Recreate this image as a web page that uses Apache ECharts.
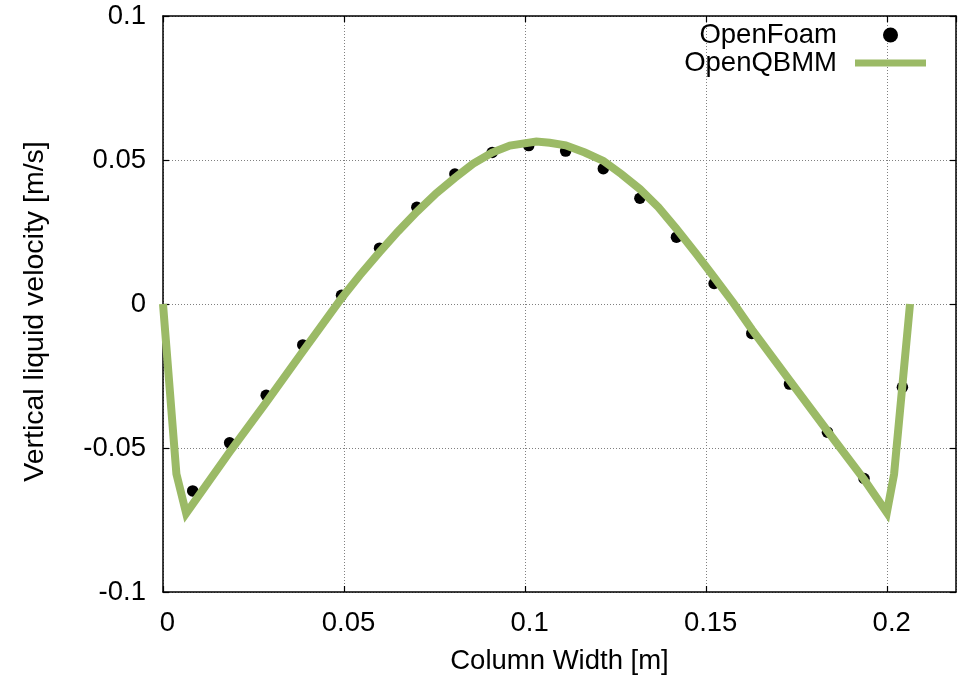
<!DOCTYPE html>
<html>
<head>
<meta charset="utf-8">
<script src="https://cdn.jsdelivr.net/npm/echarts@6/dist/echarts.min.js"></script>
<style>
  html, body { margin: 0; padding: 0; background: #fff; }
  #chart { width: 960px; height: 680px; }
</style>
</head>
<body>
<div id="chart"></div>
<script>
// OpenFoam cell values: column-width position [m] and vertical liquid velocity [m/s]
const foamX = [0.0082, 0.0184, 0.0285, 0.0386, 0.0493, 0.0598, 0.0701, 0.0806, 0.0909, 0.1010,
               0.1112, 0.1216, 0.1317, 0.1418, 0.1522, 0.1626, 0.1730, 0.1835, 0.1936, 0.2042];
const foamY = [-0.0649, -0.0482, -0.0317, -0.0142, 0.0030, 0.0194, 0.0336, 0.0451, 0.0526, 0.0550,
               0.0531, 0.0470, 0.0367, 0.0232, 0.0071, -0.0102, -0.0278, -0.0445, -0.0606, -0.0289];

// OpenQBMM profile
const qbmmX = [0, 0.0037, 0.0064, 0.0184, 0.0285, 0.0386, 0.0493, 0.0543, 0.0598, 0.0649,
               0.0701, 0.0755, 0.0806, 0.0856, 0.0909, 0.0958, 0.1031, 0.1068, 0.1112, 0.1165,
               0.1216, 0.1266, 0.1317, 0.1368, 0.1418, 0.1472, 0.1522, 0.1575, 0.1626, 0.1730,
               0.1835, 0.1936, 0.1999, 0.2019, 0.2063];
const qbmmY = [0, -0.0590, -0.0727, -0.0514, -0.0342, -0.0165, 0.0020, 0.0099, 0.0180, 0.0252,
               0.0320, 0.0385, 0.0438, 0.0487, 0.0526, 0.0550, 0.0564, 0.0560, 0.0551, 0.0526,
               0.0497, 0.0451, 0.0399, 0.0336, 0.0261, 0.0175, 0.0093, 0.0004, -0.0088, -0.0264,
               -0.0441, -0.0609, -0.0724, -0.0591, 0];

const xTicks = [0, 0.05, 0.1, 0.15, 0.2];
const yTicks = [-0.1, -0.05, 0, 0.05, 0.1];

const FONT = 'Liberation Sans, Arial, Helvetica, sans-serif';
const GREEN = '#9bba66';

const chart = echarts.init(document.getElementById('chart'), null, { renderer: 'canvas' });

const pairs = (xs, ys) => xs.map((x, i) => [x, ys[i]]);
const fmt = v => {
  const hit = [...xTicks, ...yTicks].find(t => Math.abs(t - v) < 1e-9);
  return hit === undefined ? '' : String(hit);
};

const baseAxis = {
  axisLine: { show: true, onZero: false, lineStyle: { color: '#000', width: 1.5 } },
  axisTick: { show: true, inside: true, length: 6, lineStyle: { color: '#000', width: 1.2 } },
  minorTick: { show: false },
};

chart.setOption({
  animation: false,
  backgroundColor: '#fff',
  textStyle: { fontFamily: FONT },
  grid: { left: 163, top: 16, width: 793, height: 579, containLabel: false },
  legend: {
    orient: 'vertical',
    right: 34,
    top: 21,
    padding: 0,
    align: 'right',
    itemGap: 0,
    itemWidth: 71,
    itemHeight: 15,
    textStyle: { fontFamily: FONT, fontSize: 27.5, color: '#000', lineHeight: 28, padding: [0, 13, 0, 0] },
    data: [
      { name: 'OpenFoam', icon: 'circle', itemStyle: { color: '#000', opacity: 1 } },
      { name: 'OpenQBMM', icon: 'path://M0,0H71V7H0Z', itemStyle: { color: GREEN } }
    ]
  },
  xAxis: [
    Object.assign({}, baseAxis, {
      type: 'value', position: 'bottom', min: 0, max: 0.219, interval: 0.05,
      name: 'Column Width [m]', nameLocation: 'middle', nameGap: 55,
      nameTextStyle: { fontFamily: FONT, fontSize: 27.5, color: '#000' },
      axisLabel: { show: true, margin: 17, fontFamily: FONT, fontSize: 27.5, color: '#000',
                   formatter: fmt, showMaxLabel: false, padding: [0, 0, 0, 9] },
      splitLine: { show: true, lineStyle: { color: '#808080', width: 1, type: [1, 2] } }
    }),
    Object.assign({}, baseAxis, {
      type: 'value', position: 'top', min: 0, max: 0.219, interval: 0.05,
      axisLabel: { show: false }, splitLine: { show: false }
    })
  ],
  yAxis: [
    Object.assign({}, baseAxis, {
      type: 'value', position: 'left', min: -0.1, max: 0.1, interval: 0.05,
      name: 'Vertical liquid velocity [m/s]', nameLocation: 'middle', nameGap: 113,
      nameTextStyle: { fontFamily: FONT, fontSize: 28.5, color: '#000', padding: [0, 15, 0, 0] },
      axisLabel: { show: true, margin: 17, fontFamily: FONT, fontSize: 27.5, color: '#000', formatter: fmt },
      splitLine: { show: true, lineStyle: { color: '#808080', width: 1, type: [1, 2] } }
    }),
    Object.assign({}, baseAxis, {
      type: 'value', position: 'right', min: -0.1, max: 0.1, interval: 0.05,
      axisLabel: { show: false }, splitLine: { show: false }
    })
  ],
  series: [
    {
      name: 'OpenFoam',
      type: 'scatter',
      xAxisIndex: 0, yAxisIndex: 0,
      symbol: 'circle',
      symbolSize: 11.5,
      itemStyle: { color: '#000', opacity: 1 },
      z: 2,
      data: pairs(foamX, foamY)
    },
    {
      name: 'OpenQBMM',
      type: 'line',
      xAxisIndex: 0, yAxisIndex: 0,
      showSymbol: false,
      symbol: 'none',
      clip: false,
      z: 3,
      lineStyle: { color: GREEN, width: 8, join: 'miter' },
      itemStyle: { color: GREEN },
      data: pairs(qbmmX, qbmmY)
    }
  ]
});
</script>
</body>
</html>
